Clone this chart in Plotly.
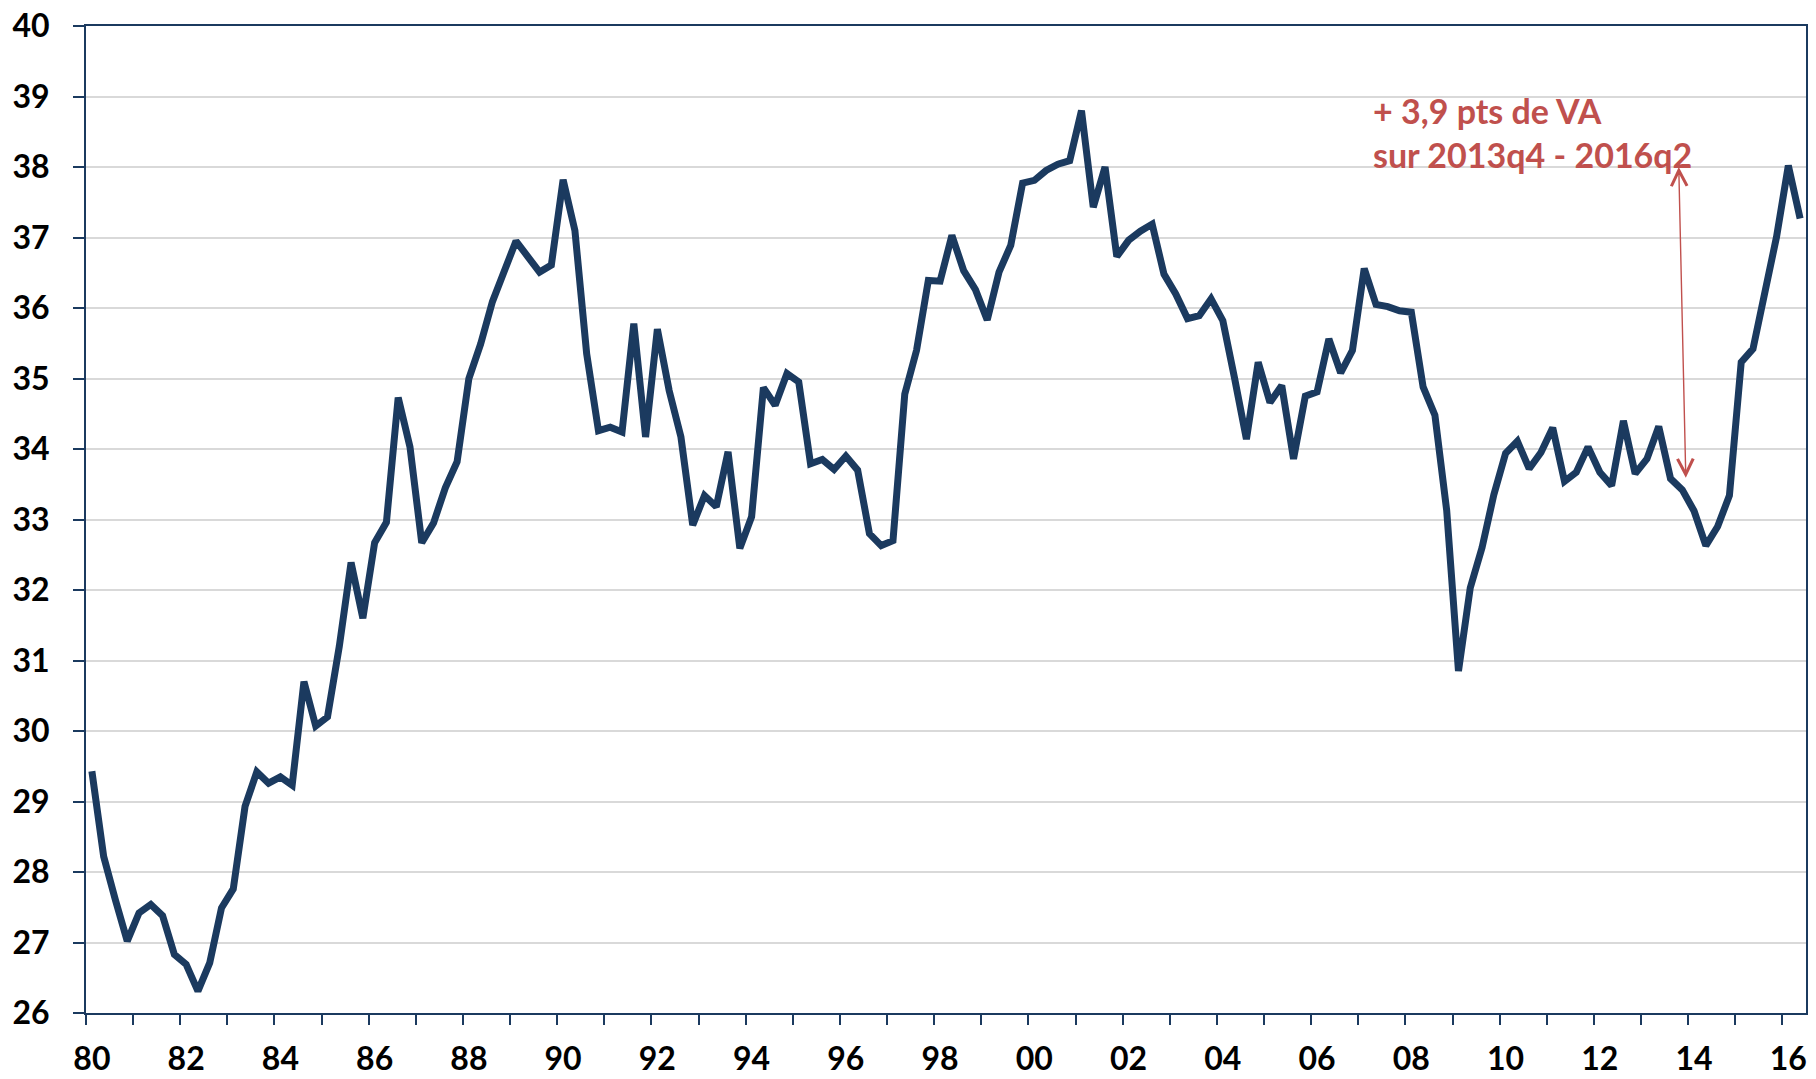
import plotly.graph_objects as go

# Quarterly series 1980q1 .. 2016q2
start_year = 1980
values = [
    29.43, 28.22, 27.60, 27.02, 27.42, 27.54, 27.38, 26.83,
    26.69, 26.31, 26.71, 27.49, 27.76, 28.93, 29.42, 29.26,
    29.35, 29.23, 30.70, 30.07, 30.20, 31.20, 32.39, 31.60,
    32.67, 32.96, 34.73, 34.03, 32.67, 32.95, 33.45, 33.82,
    35.00, 35.49, 36.09, 36.53, 36.95, 36.73, 36.51, 36.61,
    37.82, 37.10, 35.35, 34.26, 34.31, 34.24, 35.78, 34.17,
    35.70, 34.83, 34.17, 32.92, 33.34, 33.18, 33.96, 32.59,
    33.04, 34.87, 34.62, 35.07, 34.95, 33.79, 33.85, 33.71,
    33.90, 33.70, 32.80, 32.63, 32.70, 34.78, 35.40, 36.39,
    36.38, 37.03, 36.53, 36.26, 35.83, 36.51, 36.89, 37.77,
    37.81, 37.95, 38.04, 38.09, 38.80, 37.43, 38.00, 36.73,
    36.96, 37.09, 37.19, 36.48, 36.20, 35.85, 35.89, 36.13,
    35.82, 35.00, 34.14, 35.23, 34.66, 34.90, 33.86, 34.75,
    34.81, 35.56, 35.08, 35.40, 36.56, 36.05, 36.02, 35.96,
    35.94, 34.88, 34.48, 33.13, 30.85, 32.03, 32.60, 33.35,
    33.94, 34.11, 33.72, 33.95, 34.30, 33.54, 33.67, 34.03,
    33.67, 33.48, 34.40, 33.65, 33.86, 34.32, 33.58, 33.42,
    33.12, 32.63, 32.90, 33.34, 35.23, 35.42, 36.20, 37.01,
    38.02, 37.27,
]
quarters = [f"{start_year + k // 4}q{k % 4 + 1}" for k in range(len(values))]

tick_labels = ["80", "82", "84", "86", "88", "90", "92", "94", "96", "98",
               "00", "02", "04", "06", "08", "10", "12", "14", "16"]
y_ticks = list(range(26, 41))

annot_text = "+ 3,9 pts de VA<br>sur 2013q4 - 2016q2"
arrow_start_q = "2013q4"
arrow_low = 33.57
arrow_high = 38.0

NAVY = "#1B3A5F"
RED = "#C0504D"
FONT = "Lato, 'Open Sans', sans-serif"

x = list(range(len(values)))
tick_idx = [quarters.index(f"{1980 + 2 * k}q1") for k in range(len(tick_labels))]
minor_ticks = [q - 0.5 for q in range(0, len(values), 4)]

fig = go.Figure()
fig.add_trace(go.Scatter(
    x=x, y=values, mode="lines",
    line=dict(color=NAVY, width=7),
    text=quarters, hoverinfo="text+y", showlegend=False,
))

ai = quarters.index(arrow_start_q)
fig.add_annotation(
    x=ai - 0.3, y=arrow_high, ax=ai + 0.3, ay=arrow_low,
    xref="x", yref="y", axref="x", ayref="y",
    text="", showarrow=True,
    arrowhead=5, startarrowhead=5, arrowside="end+start",
    arrowsize=2.2, startarrowsize=2.2, arrowwidth=1.4, arrowcolor=RED,
)
fig.add_annotation(
    x=0.747, y=0.937, xref="paper", yref="paper",
    xanchor="left", yanchor="top", align="left",
    text=annot_text, showarrow=False,
    font=dict(family=FONT, size=34, color=RED, weight="bold"),
)

fig.update_layout(
    width=1816, height=1079,
    margin=dict(l=86, r=10, t=26, b=66),
    plot_bgcolor="white", paper_bgcolor="white",
    font=dict(family=FONT, size=32, color="black", weight="bold"),
    xaxis=dict(
        range=[-0.5, len(values) - 0.5], automargin=False,
        tickmode="array", tickvals=tick_idx, ticktext=tick_labels,
        ticks="", showgrid=False, zeroline=False,
        showline=True, linecolor=NAVY, linewidth=2, mirror=True,
        ticklabelstandoff=17,
        tickfont=dict(family=FONT, size=32, color="black", weight="bold"),
        minor=dict(tickmode="array", tickvals=minor_ticks, ticks="outside",
                   ticklen=10, tickwidth=2, tickcolor=NAVY, showgrid=False),
    ),
    yaxis=dict(
        range=[26, 40], automargin=False,
        tickmode="array", tickvals=y_ticks,
        ticks="outside", ticklen=11, tickwidth=2, tickcolor=NAVY,
        showgrid=True, gridcolor="#D9D9D9", gridwidth=1.5,
        zeroline=False,
        showline=True, linecolor=NAVY, linewidth=2, mirror=True,
        ticklabelstandoff=17,
        tickfont=dict(family=FONT, size=32, color="black", weight="bold"),
    ),
)

fig.write_html("out.html", config={"displayModeBar": False},
               post_script="document.body.style.margin='0';")
